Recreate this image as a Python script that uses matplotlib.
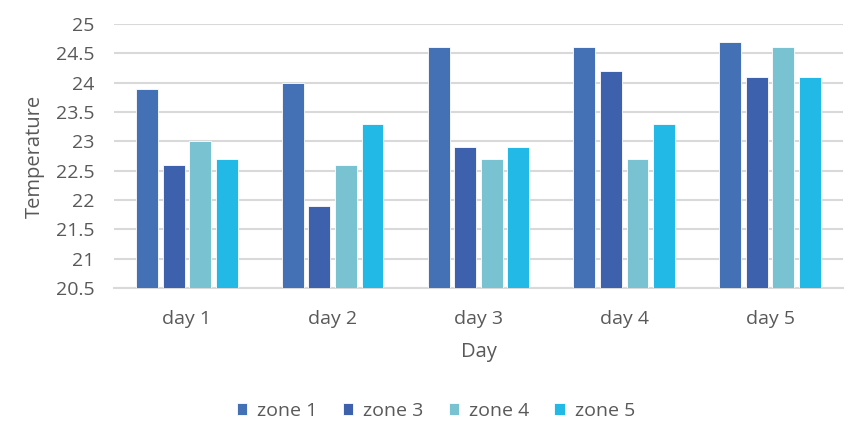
import matplotlib.pyplot as plt
import numpy as np

days = ["day 1", "day 2", "day 3", "day 4", "day 5"]
zones = ["zone 1", "zone 3", "zone 4", "zone 5"]
zone1 = [23.9, 24.0, 24.6, 24.6, 24.7]
zone3 = [22.6, 21.9, 22.9, 24.2, 24.1]
zone4 = [23.0, 22.6, 22.7, 22.7, 24.6]
zone5 = [22.7, 23.3, 22.9, 23.3, 24.1]
colors = ["#4471b6", "#3e61ad", "#78c2d2", "#23b9e6"]

plt.rcParams["font.family"] = ["Open Sans", "DejaVu Sans"]
grey = "#595959"

fig = plt.figure(figsize=(8.48, 4.29), dpi=100)
ax = fig.add_axes([0.1344, 0.3287, 0.8596, 0.6153])

x = np.arange(len(days))
step = 0.182
width = 0.15
base = 20.5
for i, (vals, c, name) in enumerate(zip([zone1, zone3, zone4, zone5], colors, zones)):
    vals = np.array(vals)
    ax.bar(x + (i - 1.5) * step, vals - base, width, bottom=base,
           color=c, label=name, zorder=3, edgecolor="white", linewidth=0.6)

ax.set_xlim(-0.5, 4.5)
ax.set_ylim(20.5, 25)
ax.set_yticks(np.arange(20.5, 25.01, 0.5))
ax.set_yticklabels(["20.5", "21", "21.5", "22", "22.5", "23", "23.5", "24", "24.5", "25"])
ax.set_xticks(x)
ax.set_xticklabels(days)
ax.grid(axis="y", color="#d9d9d9", linewidth=1.5, zorder=0)
for s in ["top", "right", "left"]:
    ax.spines[s].set_visible(False)
ax.spines["bottom"].set_color("#d9d9d9")
ax.spines["bottom"].set_linewidth(1.5)
ax.tick_params(axis="y", length=0, labelsize=14, colors=grey, pad=14)
ax.tick_params(axis="x", length=0, labelsize=14, colors=grey, pad=16)

ax.set_xlabel("Day", fontsize=14.5, color=grey, labelpad=10)
ax.set_ylabel("Temperature", fontsize=14.5, color=grey, labelpad=8)

fig.legend(loc="center", bbox_to_anchor=(0.514, 0.042), ncol=4, frameon=False,
           fontsize=14, labelcolor=grey, handlelength=0.55, handleheight=0.55,
           handletextpad=0.5, columnspacing=1.3)

plt.savefig("out.png", dpi=100)
